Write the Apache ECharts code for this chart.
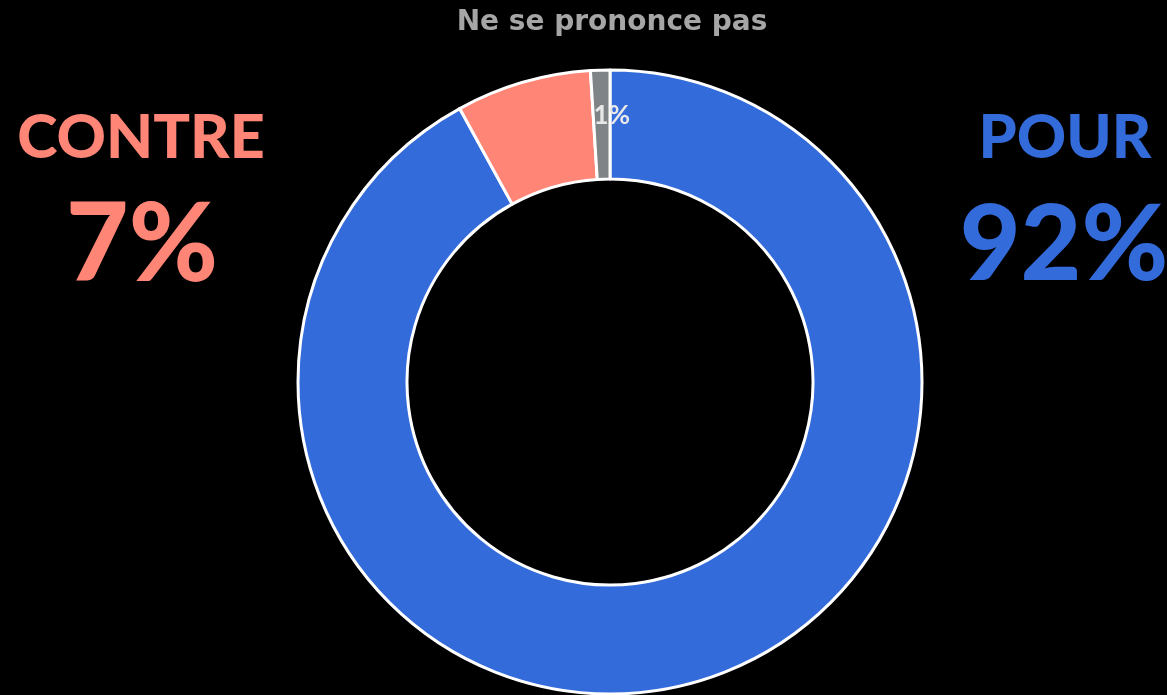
<!DOCTYPE html>
<html>
<head>
<meta charset="utf-8">
<script src="https://cdn.jsdelivr.net/npm/echarts@6/dist/echarts.min.js"></script>
<style>
  html, body { margin: 0; padding: 0; background: #000; }
  #chart { width: 1167px; height: 695px; }
</style>
</head>
<body>
<div id="chart"></div>
<script>
  // données du sondage
  var categories = ['POUR', 'CONTRE', 'Ne se prononce pas'];
  var values = [92, 7, 1];
  var colors = ['#336bdb', '#ff8577', '#7f8486'];

  var myChart = echarts.init(document.getElementById('chart'), null, { renderer: 'canvas' });

  var font = 'Lato, "DejaVu Sans", sans-serif';

  var data = categories.map(function (c, i) {
    var d = { name: c, value: values[i], itemStyle: { color: colors[i] } };
    if (i === 2) {
      d.label = {
        show: true,
        position: 'inside',
        formatter: '{c}%',
        color: '#e8e8e8',
        fontSize: 26,
        fontWeight: 'bold',
        fontFamily: font,
        offset: [10, -6]
      };
    }
    return d;
  });

  var option = {
    backgroundColor: '#000',
    animation: false,
    title: [
      {
        text: categories[2],
        left: 607, top: 4, textAlign: 'center',
        textStyle: { color: '#a6a6a6', fontSize: 28, fontWeight: 'bold', fontFamily: '"DejaVu Sans", sans-serif' }
      },
      {
        text: categories[1],
        left: 136, top: 103, textAlign: 'center',
        textStyle: { color: colors[1], fontSize: 61, fontWeight: 900, fontFamily: font }
      },
      {
        text: values[1] + '%',
        left: 137, top: 187, textAlign: 'center',
        textStyle: { color: colors[1], fontSize: 108, fontWeight: 900, fontFamily: font }
      },
      {
        text: categories[0],
        left: 1060, top: 103, textAlign: 'center',
        textStyle: { color: colors[0], fontSize: 61, fontWeight: 900, fontFamily: font }
      },
      {
        text: values[0] + '%',
        left: 1059, top: 189, textAlign: 'center',
        textStyle: { color: colors[0], fontSize: 105, fontWeight: 900, fontFamily: font }
      }
    ],
    series: [{
      type: 'pie',
      center: [610, 382],
      radius: [203, 312],
      startAngle: 90,
      clockwise: true,
      label: { show: false },
      labelLine: { show: false },
      emphasis: { disabled: true },
      itemStyle: { borderColor: '#fff', borderWidth: 3 },
      data: data
    }]
  };

  myChart.setOption(option);
  window.addEventListener('resize', myChart.resize);
</script>
</body>
</html>
